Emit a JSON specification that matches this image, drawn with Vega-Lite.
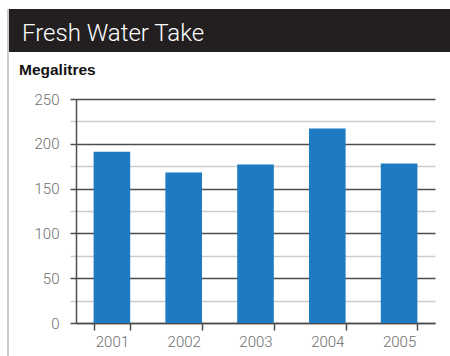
{
  "$schema": "https://vega.github.io/schema/vega-lite/v6.json",
  "padding": {"left": 7, "top": 8, "right": 0, "bottom": 0},
  "background": "white",
  "config": {"view": {"stroke": null}, "font": "Roboto"},
  "spacing": 0,
  "hconcat": [
    {
      "width": 1,
      "height": 348,
      "data": {"values": [{"pos": 0}]},
      "mark": {"type": "rule", "color": "#9a9a9a", "strokeWidth": 1},
      "encoding": {
        "x": {"field": "pos", "type": "quantitative", "scale": {"domain": [0, 1]}, "axis": null}
      }
    },
    {
      "spacing": 11,
      "vconcat": [
        {
          "width": 442,
          "height": 43,
          "view": {"fill": "#231f20", "stroke": null},
          "data": {"values": [{"label": "Fresh Water Take", "pos": 0}]},
          "mark": {
            "type": "text",
            "align": "left",
            "baseline": "alphabetic",
            "dx": 13,
            "dy": 10.5,
            "color": "#ffffff",
            "fontSize": 24,
            "fontWeight": 300,
            "font": "Roboto"
          },
          "encoding": {
            "text": {"field": "label"},
            "x": {"field": "pos", "type": "quantitative", "scale": {"domain": [0, 1]}, "axis": null}
          }
        },
        {
          "spacing": 9,
          "hconcat": [
            {
              "width": 1,
              "height": 1,
              "data": {"values": [{"t": ""}]},
              "mark": {"type": "text", "opacity": 0},
              "encoding": {"text": {"field": "t"}}
            },
            {
              "width": 359,
              "height": 224,
              "data": {
                "values": [
                  {"year": "2001", "megalitres": 191},
                  {"year": "2002", "megalitres": 168},
                  {"year": "2003", "megalitres": 177},
                  {"year": "2004", "megalitres": 217},
                  {"year": "2005", "megalitres": 178}
                ]
              },
              "title": {
                "text": "Megalitres",
                "anchor": "start",
                "frame": "group",
                "orient": "top",
                "dx": -57,
                "offset": 1.5,
                "baseline": "alphabetic",
                "fontSize": 15.5,
                "fontWeight": "bold",
                "color": "#111111",
                "font": "Liberation Sans"
              },
              "mark": {"type": "bar", "color": "#1e7bc1"},
              "encoding": {
                "x": {
                  "field": "year",
                  "type": "ordinal",
                  "scale": {"paddingInner": 0.49, "paddingOuter": 0.245},
                  "axis": {
                    "title": null,
                    "labelAngle": 0,
                    "tickBand": "extent",
                    "tickSize": 7,
                    "tickColor": "#4d4d4d",
                    "tickWidth": 1.5,
                    "domainColor": "#4d4d4d",
                    "domainWidth": 1.5,
                    "labelPadding": 4,
                    "labelFontSize": 15,
                    "labelColor": "#6e6e6e",
                    "labelFont": "Roboto",
                    "labelFontWeight": 300,
                    "grid": false
                  }
                },
                "y": {
                  "field": "megalitres",
                  "type": "quantitative",
                  "scale": {"domain": [0, 250], "nice": false},
                  "axis": {
                    "title": null,
                    "values": [0, 25, 50, 75, 100, 125, 150, 175, 200, 225, 250],
                    "grid": true,
                    "gridColor": {"condition": {"test": "datum.value % 50 === 0", "value": "#4d4d4d"}, "value": "#cccccc"},
                    "gridWidth": 1.5,
                    "tickColor": {"condition": {"test": "datum.value % 50 === 0", "value": "#4d4d4d"}, "value": "#cccccc"},
                    "tickWidth": 1.5,
                    "tickSize": 6,
                    "labelExpr": "datum.value % 50 === 0 ? datum.label : ''",
                    "labelPadding": 11,
                    "labelFontSize": 15,
                    "labelColor": "#6e6e6e",
                    "labelFont": "Roboto",
                    "labelFontWeight": 300,
                    "domainColor": "#4d4d4d",
                    "domainWidth": 1.5
                  }
                }
              }
            }
          ]
        }
      ]
    }
  ]
}
